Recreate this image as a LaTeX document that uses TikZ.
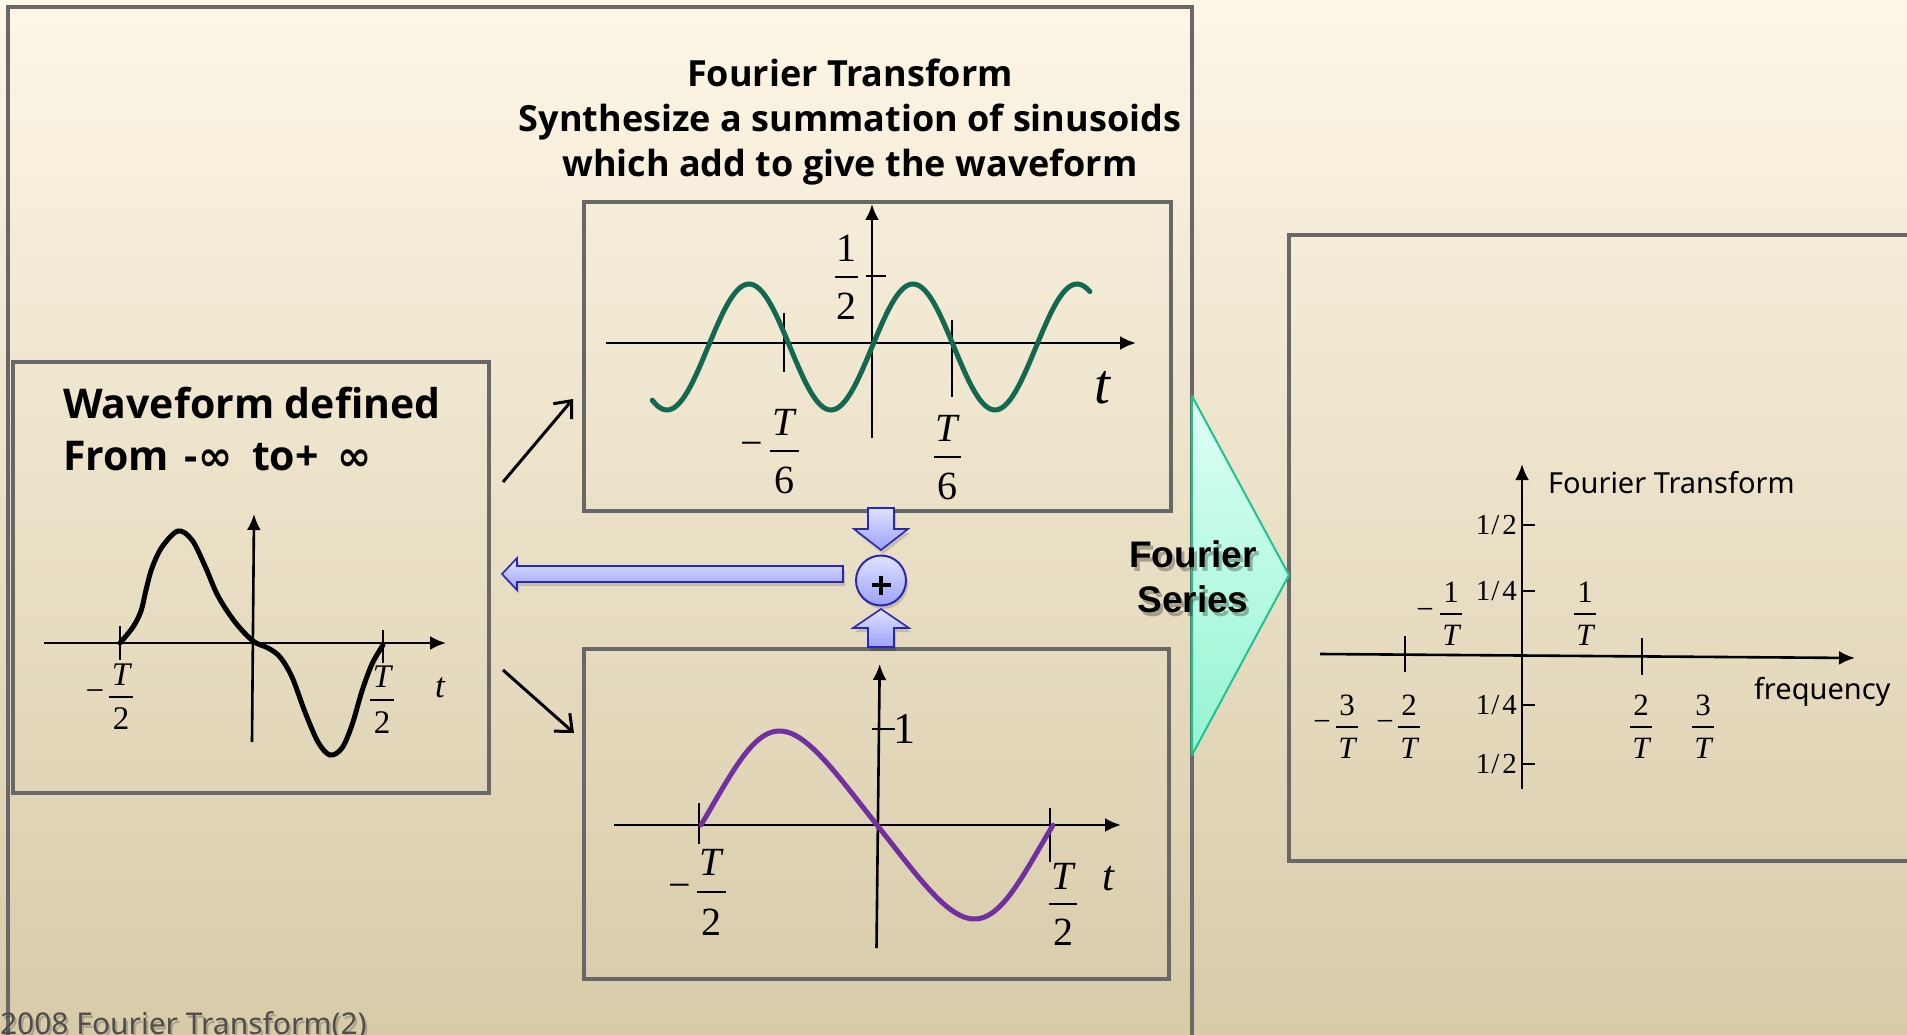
\documentclass[tikz,border=0pt]{standalone}
\usepackage{fontspec}
\setmainfont{Liberation Serif}
\newfontfamily\hdfont{Noto Sans}
\newfontfamily\bdfont{Open Sans}
\newfontfamily\arfont{Liberation Sans}
\newfontfamily\djvfont{DejaVu Sans}
\usetikzlibrary{arrows.meta}
\definecolor{bgtop}{RGB}{254,246,230}
\definecolor{bgmid}{RGB}{243,235,214}
\definecolor{bgbot}{RGB}{215,203,168}
\definecolor{framegray}{RGB}{104,104,104}
\definecolor{wavegreen}{RGB}{18,104,80}
\definecolor{wavepurple}{RGB}{112,48,160}
\definecolor{blueA}{RGB}{224,226,255}
\definecolor{blueB}{RGB}{156,162,248}
\definecolor{blueedge}{RGB}{40,40,180}
\definecolor{tealA}{RGB}{222,255,244}
\definecolor{tealB}{RGB}{148,245,210}
\definecolor{tealedge}{RGB}{30,195,145}
\definecolor{footgray}{RGB}{78,78,78}
\tikzset{
  box/.style={draw=framegray, line width=4pt, inner sep=0pt, rectangle},
  axisline/.style={line width=2.6pt, -{Latex[length=16pt,width=14pt]}},
  tickline/.style={line width=1.8pt},
  lbl/.style={inner sep=0pt, outer sep=0pt},
  diag/.style={line width=3pt, -{Straight Barb[length=14pt,width=24pt]}},
  bluearrow/.style={top color=blueA, bottom color=blueB, draw=blueedge, line width=1.6pt},
  shadowfill/.style={fill=black, opacity=0.15},
  ttl/.style={lbl, font=\bdfont\bfseries\fontsize{36}{44}\selectfont, anchor=base},
  wvt/.style={lbl, font=\bdfont\bfseries\fontsize{41}{50}\selectfont, anchor=base west},
  inft/.style={lbl, font=\djvfont\bfseries\fontsize{41}{50}\selectfont, anchor=base west},
  ylab/.style={lbl, font=\fontsize{29}{29}\selectfont, anchor=east},
}
% fraction: name, x, ybar, num, den, fontsize, halfbar, offset
\newcommand\FR[8]{%
  \node[lbl, font=\fontsize{#6}{#6}\selectfont] (#1n) at (#2,#3-#8) {#4};
  \node[lbl, font=\fontsize{#6}{#6}\selectfont] (#1d) at (#2,#3+#8) {#5};
  \draw[line width=1.5pt] (#2-#7,#3) -- (#2+#7,#3);
}
\newcommand\hf[1]{1\kern1pt/\kern3pt#1}
\begin{document}
\begin{tikzpicture}[x=1pt,y=-1pt]
\useasboundingbox (0,0) rectangle (1907,1035);
\shade[top color=bgtop, middle color=bgmid, bottom color=bgbot] (0,0) rectangle (1907,1035);

% frames
\node[box, minimum width=1184pt, minimum height=1060pt] (outer) at (600,537) {};
\node[box, minimum width=476pt, minimum height=431pt] (wave) at (251,577.5) {};
\node[box, minimum width=587pt, minimum height=309pt] (top) at (877.5,356.5) {};
\node[box, minimum width=585pt, minimum height=330pt] (bot) at (876.5,814) {};
\node[box, minimum width=662pt, minimum height=626pt] (spec) at (1620,548) {};

% title
\node[ttl] (t1) at (850,87) {Fourier Transform};
\node[ttl] (t2) at (850,132) {Synthesize a summation of sinusoids};
\node[ttl] (t3) at (850,177) {which add to give the waveform};

% ---------- left panel ----------
\node[wvt] (w1) at (63,418) {Waveform defined};
\node[wvt] (w2a) at (63,470) {From};
\node[wvt] (w2b) at (184,470) {-};
\node[inft] (w2c) at (198,470) {∞};
\node[wvt] (w2d) at (252,470) {to+};
\node[inft] (w2e) at (337,470) {∞};
\draw[axisline] (44,643) -- (446,643);
\draw[axisline] (252,742) -- (254,514);
\draw[tickline] (120,626) -- (120,660);
\draw[tickline] (383,630) -- (383,663);
\draw[line width=5pt, line cap=round] plot[smooth, tension=0.55] coordinates {
 (120,643) (133,627) (141,611) (146,590) (152,568) (162,547) (178,531) (192,540)
 (205,566) (218,596) (235,622) (253,641) (268,648) (280,657) (292,677) (305,712)
 (318,742) (330,755) (342,748) (352,725) (362,691) (372,664) (383,645)};
\FR{lfa}{121}{697}{\itshape T}{2}{33}{12}{22}
\node[lbl, font=\fontsize{33}{33}\selectfont] (lfam) at (95,696) {−};
\FR{lfb}{382}{700}{\itshape T}{2}{33}{12}{23}
\node[lbl, font=\itshape\fontsize{35}{35}\selectfont] (lt) at (440,688) {t};

% ---------- top panel ----------
\draw[axisline] (606,343) -- (1136,343);
\draw[axisline] (872,438) -- (872,204);
\draw[tickline] (784,313) -- (784,372);
\draw[tickline] (952,320) -- (952,397);
\draw[tickline] (866,276) -- (886,276);
\draw[wavegreen, line width=5pt, line cap=round] plot[domain=-1.34:1.33, samples=160] ({872+164*\x}, {347-63*sin(360*\x)});
\FR{tfa}{846}{277}{1}{2}{40}{11.5}{29}
\FR{tfb}{784}{451}{\itshape T}{6}{40}{14.5}{29}
\node[lbl, font=\fontsize{40}{40}\selectfont] (tfbm) at (752,449) {−};
\FR{tfc}{947}{457}{\itshape T}{6}{40}{13.5}{29}
\node[lbl, font=\itshape\fontsize{57}{57}\selectfont] (tt) at (1102,388) {t};

% ---------- bottom panel ----------
\draw[axisline] (614,825) -- (1121,825);
\draw[axisline] (876.5,948) -- (879.7,664);
\draw[tickline] (699,803) -- (699,844);
\draw[tickline] (1050,808) -- (1050,862);
\draw[tickline] (872,729) -- (895,729);
\draw[wavepurple, line width=5pt, line cap=round] plot[domain=-1:1, samples=120] ({877+176*(\x+0.108*sin(180*\x)*(1-abs(\x)))}, {825+94*sin(180*\x)});
\FR{bfa}{711}{892}{\itshape T}{2}{40}{14.5}{30}
\node[lbl, font=\fontsize{40}{40}\selectfont] (bfam) at (680,891) {−};
\FR{bfb}{1063}{904}{\itshape T}{2}{40}{14}{28}
\node[lbl, font=\fontsize{44}{44}\selectfont] (bone) at (904,729) {1};
\node[lbl, font=\itshape\fontsize{43}{43}\selectfont] (bt) at (1108,879) {t};

% ---------- diagonal connectors ----------
\coordinate (d1s) at (503,482);
\coordinate (d1e) at (573,399);
\coordinate (d2s) at (503,670);
\coordinate (d2e) at (574,733);
\draw[diag] (d1s) -- (d1e);
\draw[diag] (d2s) -- (d2e);

% ---------- blue summation arrows ----------
\fill[shadowfill, shift={(2,4)}] (502,574) -- (517,558) -- (517,566) -- (843,566) -- (843,582) -- (517,582) -- (517,590) -- cycle;
\shadedraw[bluearrow] (502,574) -- (517,558) -- (517,566) -- (843,566) -- (843,582) -- (517,582) -- (517,590) -- cycle;
\fill[shadowfill, shift={(2,4)}] (868,508) -- (894,508) -- (894,529) -- (908,529) -- (881,550) -- (854,529) -- (868,529) -- cycle;
\shadedraw[bluearrow] (868,508) -- (894,508) -- (894,529) -- (908,529) -- (881,550) -- (854,529) -- (868,529) -- cycle;
\fill[shadowfill, shift={(2,4)}] (868,647) -- (894,647) -- (894,628) -- (909,628) -- (881,609) -- (853,628) -- (868,628) -- cycle;
\shadedraw[bluearrow] (868,647) -- (894,647) -- (894,628) -- (909,628) -- (881,609) -- (853,628) -- (868,628) -- cycle;
\fill[shadowfill] (883,584) circle[radius=25];
\node[circle, minimum size=50pt, inner sep=0pt, top color=blueA, bottom color=blueB, draw=blueedge, line width=2pt] (plus) at (881,580.5) {};
\draw[line width=4pt] (871.5,585) -- (890.5,585);
\draw[line width=4pt] (881,575.5) -- (881,594.5);

% ---------- Fourier series triangle ----------
\shadedraw[top color=tealA, bottom color=tealB, draw=tealedge, line width=2pt, line join=round] (1192,396) -- (1289,575) -- (1192,755) -- cycle;
\node[lbl, font=\arfont\bfseries\fontsize{37}{37}\selectfont, anchor=base, text=black, opacity=0.28] (fs1s) at (1196,571) {Fourier};
\node[lbl, font=\arfont\bfseries\fontsize{37}{37}\selectfont, anchor=base, text=black, opacity=0.28] (fs2s) at (1196,616) {Series};
\node[lbl, font=\arfont\bfseries\fontsize{37}{37}\selectfont, anchor=base] (fs1) at (1193,567) {Fourier};
\node[lbl, font=\arfont\bfseries\fontsize{37}{37}\selectfont, anchor=base] (fs2) at (1193,612) {Series};

% ---------- spectrum panel ----------
\draw[axisline] (1320,654) -- (1855,658);
\draw[axisline] (1522,789) -- (1522,464);
\draw[tickline] (1405,636) -- (1405,672);
\draw[tickline] (1642,638) -- (1642,675);
\foreach \yy in {525,591,705,764} {
  \draw[tickline] (1521,\yy) -- (1535,\yy);
}
\node[ylab] (ya) at (1517,525) {\hf{2}};
\node[ylab] (yb) at (1517,591) {\hf{4}};
\node[ylab] (yc) at (1517,705) {\hf{4}};
\node[ylab] (yd) at (1517,764) {\hf{2}};
\node[lbl, font=\hdfont\fontsize{29}{29}\selectfont, anchor=base west] (ftl) at (1548,493) {Fourier Transform};
\node[lbl, font=\hdfont\fontsize{29}{29}\selectfont, anchor=base west] (frq) at (1754,699) {frequency};
\FR{ra}{1451}{614}{1}{\itshape T}{31}{11}{21.5}
\node[lbl, font=\fontsize{31}{31}\selectfont] (ram) at (1425,614) {−};
\FR{rb}{1585}{614}{1}{\itshape T}{31}{11}{21.5}
\FR{rc}{1347}{727}{3}{\itshape T}{31}{11}{21.5}
\node[lbl, font=\fontsize{31}{31}\selectfont] (rcm) at (1322,726) {−};
\FR{rd}{1409}{727}{2}{\itshape T}{31}{11}{21.5}
\node[lbl, font=\fontsize{31}{31}\selectfont] (rdm) at (1385,726) {−};
\FR{re}{1641}{727}{2}{\itshape T}{31}{11}{21.5}
\FR{rf}{1703}{727}{3}{\itshape T}{31}{11}{21.5}

% ---------- footer ----------
\node[lbl, font=\hdfont\fontsize{30}{30}\selectfont, anchor=base west, text=black, opacity=0.2] (foots) at (2,1037) {2008 Fourier Transform(2)};
\node[lbl, font=\hdfont\fontsize{30}{30}\selectfont, anchor=base west, text=footgray] (foot) at (0,1034) {2008 Fourier Transform(2)};
\end{tikzpicture}
\end{document}
